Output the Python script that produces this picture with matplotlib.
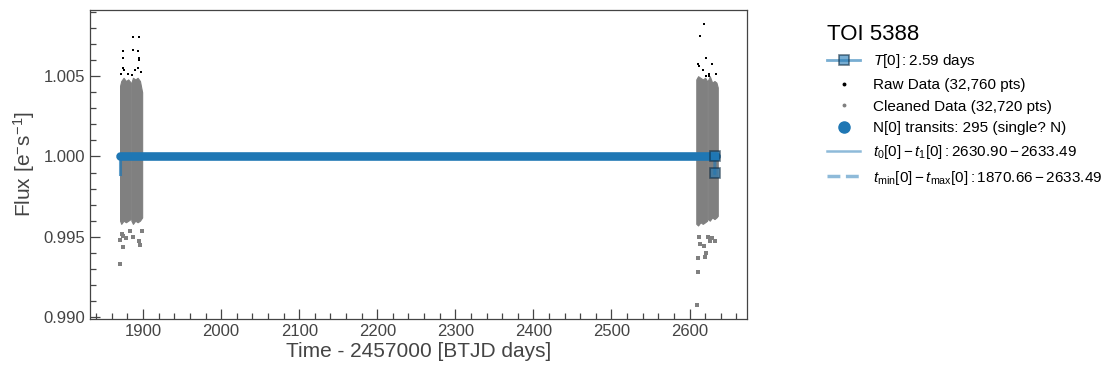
#!/usr/bin/env python

import numpy as np
import matplotlib.pyplot as plt
from matplotlib.lines import Line2D

plt.rcParams['font.family'] = ['Liberation Sans', 'DejaVu Sans']
plt.rcParams['mathtext.fontset'] = 'custom'
plt.rcParams['mathtext.rm'] = 'Liberation Sans'
plt.rcParams['mathtext.it'] = 'Liberation Sans:italic'
plt.rcParams['mathtext.bf'] = 'Liberation Sans:bold'

# Summary numbers from the fit
T_PERIOD = 2.59
N_TRANSITS = 295
T0, T1 = 2630.90, 2633.49
TMIN, TMAX = 1870.66, 2633.49

# Dense part of the cleaned light curve: envelope per lobe (time, upper, lower)
lobe1_t = [1870.5, 1872.0, 1875.0, 1878.0, 1881.0, 1884.2]
lobe1_hi = [1.0044, 1.0047, 1.0049, 1.0047, 1.0048, 1.0046]
lobe1_lo = [0.9960, 0.9958, 0.9960, 0.9959, 0.9960, 0.9961]
lobe2_t = [1885.0, 1887.0, 1890.0, 1893.0, 1896.0, 1898.8]
lobe2_hi = [1.0046, 1.0049, 1.0048, 1.0049, 1.0047, 1.0040]
lobe2_lo = [0.9960, 0.9958, 0.9960, 0.9959, 0.9960, 0.9962]
lobe3_t = [2608.7, 2611.0, 2614.0, 2617.0, 2620.0, 2622.6]
lobe3_hi = [1.0048, 1.0050, 1.0049, 1.0048, 1.0049, 1.0047]
lobe3_lo = [0.9958, 0.9957, 0.9959, 0.9958, 0.9959, 0.9960]
lobe4_t = [2623.4, 2626.0, 2629.0, 2632.0, 2634.5, 2636.2]
lobe4_hi = [1.0047, 1.0050, 1.0046, 1.0047, 1.0046, 1.0043]
lobe4_lo = [0.9961, 0.9960, 0.9962, 0.9961, 0.9962, 0.9963]

# Raw points outside the cleaned range (black)
raw_t = [1887.7, 1894.5, 1874.4, 1887.2, 1893.6, 1874.4, 1895.4, 1895.4,
         1874.0, 1875.9, 1872.1, 1880.4, 1889.4, 1893.2, 1897.1, 1885.5,
         2619.2, 2612.8, 2621.1, 2610.8, 2612.4, 2617.5, 2625.2, 2629.3,
         2633.7, 2621.5, 2625.4]
raw_f = [1.00742, 1.00742, 1.00656, 1.00663, 1.00656, 1.00611, 1.00616, 1.00600,
         1.00550, 1.00538, 1.00513, 1.00513, 1.00538, 1.00550, 1.00525, 1.00506,
         1.00825, 1.00750, 1.00614, 1.00575, 1.00563, 1.00538, 1.00513, 1.00575,
         1.00513, 1.00500, 1.00500]

# Cleaned points in the low tails (grey)
cln_t = [1870.6, 1874.4, 1896.2, 1870.2, 1874.4, 1878.2, 1887.2, 1895.4,
         1883.4, 1873.0, 1898.3,
         2609.9, 2610.3, 2610.3, 2620.1, 2620.5, 2614.0, 2619.2, 2626.1,
         2632.9, 2612.4, 2623.7, 2629.3]
cln_f = [0.99329, 0.99439, 0.99448, 0.99479, 0.99502, 0.99492, 0.99500, 0.99475,
         0.99538, 0.99520, 0.99538,
         0.99075, 0.99283, 0.99367, 0.99371, 0.99398, 0.99454, 0.99444, 0.99475,
         0.99471, 0.99496, 0.99500, 0.99492]

# Transit marker (squares) and the small stub at the start
sq_t = [2632.5, 2632.4]
sq_f = [1.0000, 0.99895]
stub_t = [TMIN, TMIN]
stub_f = [1.0000, 0.99893]

fig, ax = plt.subplots(figsize=(11.17, 3.73), dpi=100)
fig.subplots_adjust(left=0.081, right=0.669, top=0.973, bottom=0.145)

grey = '#808080'
blue = '#1f77b4'
for t, hi, lo in [(lobe1_t, lobe1_hi, lobe1_lo), (lobe2_t, lobe2_hi, lobe2_lo),
                  (lobe3_t, lobe3_hi, lobe3_lo), (lobe4_t, lobe4_hi, lobe4_lo)]:
    ax.fill_between(t, lo, hi, color=grey, lw=0.8, edgecolor=grey, zorder=1)

ax.scatter(raw_t, raw_f, s=3, color='k', marker='s', lw=0, zorder=2)
ax.scatter(cln_t, cln_f, s=5, color=grey, marker='s', lw=0, zorder=2)

# t0-t1 and tmin-tmax ranges (hidden beneath the transit markers)
l_t01, = ax.plot([T0, T1], [1.0, 1.0], color=blue, alpha=0.5, lw=1.8, zorder=3)
l_tmm, = ax.plot([TMIN, TMAX], [1.0, 1.0], color=blue, alpha=0.5, lw=2.5,
                 ls='--', zorder=3)

# transits: markers spaced by the period merge into one band
ax.plot([TMIN, TMAX], [1.0, 1.0], color=blue, lw=6.2, solid_capstyle='round',
        zorder=4)
ax.plot(stub_t, stub_f, color=blue, alpha=0.7, lw=2.2, zorder=4)
l_T, = ax.plot(sq_t, sq_f, color=blue, alpha=0.6, lw=2.2, marker='s', ms=7,
               mfc=blue, mec='#0d2a40', mew=1.2, zorder=5)

ax.set_xlim(1832.6, 2674.0)
ax.set_ylim(0.98988, 1.00912)
ax.set_xticks(np.arange(1900, 2601, 100))
ax.set_xticks(np.arange(1840, 2661, 20), minor=True)
ax.set_yticks([0.990, 0.995, 1.000, 1.005])
ax.set_yticks(np.arange(0.990, 1.0091, 0.001), minor=True)
ax.tick_params(which='both', direction='in', colors='#444444', labelcolor='#444444',
               labelsize=12, width=0.9)
ax.tick_params(which='major', length=7.5)
ax.tick_params(which='minor', length=4)
for s in ax.spines.values():
    s.set_color('#444444')
    s.set_linewidth(0.9)

ax.set_xlabel('Time - 2457000 [BTJD days]', fontsize=15, color='#444444', labelpad=2)
ax.set_ylabel(r'Flux [e$^{-}$s$^{-1}$]', fontsize=15, color='#444444', labelpad=5)

h_T = Line2D([], [], color=blue, alpha=0.6, lw=2, marker='s', ms=7, mfc=blue,
             mec='#0d2a40', mew=1.2)
h_raw = Line2D([], [], ls='none', marker='o', ms=1.8, color='k')
h_cln = Line2D([], [], ls='none', marker='o', ms=1.8, color=grey)
h_N = Line2D([], [], ls='none', marker='o', ms=8, color=blue)
handles = [h_T, h_raw, h_cln, h_N, l_t01, l_tmm]
labels = [rf'$T[0]: {T_PERIOD:.2f}$ days',
          'Raw Data (32,760 pts)',
          'Cleaned Data (32,720 pts)',
          f'N[0] transits: {N_TRANSITS} (single? N)',
          rf'$t_0[0] - t_1[0]: {T0:.2f} - {T1:.2f}$',
          rf'$t_{{\min}}[0] - t_{{\max}}[0]: {TMIN:.2f} - {TMAX:.2f}$']
leg = ax.legend(handles, labels, loc='upper left', bbox_to_anchor=(1.1, 1.0),
                frameon=False, fontsize=11, title='TOI 5388', title_fontsize=16,
                handlelength=2.2, labelspacing=0.5)
leg._legend_box.align = 'left'

fig.savefig('out.png', dpi=100)
